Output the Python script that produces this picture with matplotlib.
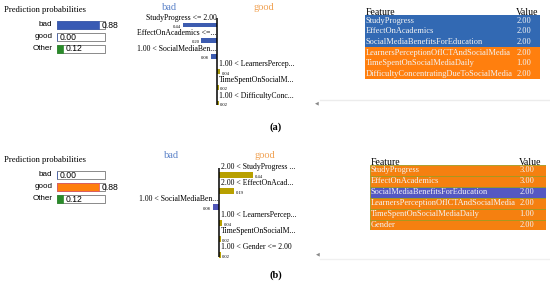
import numpy as np
import matplotlib.pyplot as plt

W, H = 550, 285

prob_labels = ["bad", "good", "Other"]
probs_a = [0.88, 0.00, 0.12]
probs_b = [0.00, 0.88, 0.12]

exp_labels_a = ["StudyProgress <= 2.00", "EffectOnAcademics <=...", "1.00 < SocialMediaBen...",
                "1.00 < LearnersPercep...", "TimeSpentOnSocialM...", "1.00 < DifficultyConc..."]
exp_weights_a = [-0.44, -0.20, -0.08, 0.04, 0.02, 0.02]
exp_labels_b = ["2.00 < StudyProgress ...", "2.00 < EffectOnAcad...", "1.00 < SocialMediaBen...",
                "1.00 < LearnersPercep...", "TimeSpentOnSocialM...", "1.00 < Gender <= 2.00"]
exp_weights_b = [0.44, 0.19, -0.08, 0.04, 0.02, 0.02]

features_a = ["StudyProgress", "EffectOnAcademics", "SocialMediaBenefitsForEducation",
              "LearnersPerceptionOfICTAndSocialMedia", "TimeSpentOnSocialMediaDaily",
              "DifficultyConcentratingDueToSocialMedia"]
values_a = [2.00, 2.00, 2.00, 2.00, 1.00, 2.00]
features_b = ["StudyProgress", "EffectOnAcademics", "SocialMediaBenefitsForEducation",
              "LearnersPerceptionOfICTAndSocialMedia", "TimeSpentOnSocialMediaDaily", "Gender"]
values_b = [3.00, 3.00, 2.00, 2.00, 1.00, 2.00]

SERIF = "Liberation Serif"
SANS = "Liberation Sans"


def px_axes(fig, x0, y0, x1, y1):
    ax = fig.add_axes([x0 / W, 1 - y1 / H, (x1 - x0) / W, (y1 - y0) / H])
    ax.axis("off")
    return ax


def ftext(fig, x, y, s, **kw):
    fig.text(x / W, 1 - y / H, s, **kw)


def draw_probs(fig, top, probs, good_edge):
    step = 12
    ax = px_axes(fig, 57, top - step / 2, 105, top + 2.5 * step)
    y = np.arange(len(probs))
    ax.barh(y, [1] * len(probs), height=0.72, color="white", edgecolor="#777777", lw=0.6, clip_on=False)
    cols = ["#385ab4", "#ff7f0e", "#2a8a2a"]
    edges = ["#385ab4", good_edge, "#2a8a2a"]
    bars = ax.barh(y, probs, height=0.66, color=cols, edgecolor=edges, lw=0.5)
    for b in bars:
        b.set_clip_on(False)
    ax.set_xlim(0, 1)
    ax.set_ylim(2.5, -0.5)
    for i, (lab, p) in enumerate(zip(prob_labels, probs)):
        ax.text(-0.1, i, lab, ha="right", va="center", fontsize=5.8, family=SANS)
        ax.text(p + 0.05, i, f"{p:.2f}", ha="left", va="center", fontsize=6.2, family=SANS)


def draw_explain(fig, cx, y0, step, labels, weights, neg_col, pos_col):
    scale = 78
    n = len(weights)
    ax = px_axes(fig, cx - scale, y0 - step, cx + scale, y0 + (n - 0.5) * step)
    ax.set_xlim(-1, 1)
    ax.set_ylim(n - 0.5, -1)
    y = np.arange(n)
    w = np.array(weights)
    ax.barh(y, w, height=0.32, color=np.where(w < 0, neg_col, pos_col))
    ax.vlines(0, -0.45, n - 0.85, color="black", lw=1.1)
    for i, (lab, v) in enumerate(zip(labels, weights)):
        if v < 0:
            ax.text(-0.005, i - 0.47, lab, ha="right", va="center", fontsize=5.6, family=SERIF)
            ax.text(v - 0.02, i + 0.12, f"{abs(v):.2f}", ha="right", va="center", fontsize=3.3, family=SERIF)
        else:
            ax.text(0.02, i - 0.47, lab, ha="left", va="center", fontsize=5.6, family=SERIF)
            ax.text(v + 0.02, i + 0.12, f"{v:.2f}", ha="left", va="center", fontsize=3.3, family=SERIF)


def draw_table(fig, x0, x1, top, rh, features, values, weights, blue, orange, edge, vx):
    n = len(features)
    ax = px_axes(fig, x0, top - rh, x1, top + n * rh)
    ax.set_xlim(0, 1)
    ax.set_ylim(n, -1)
    for i, (f, v, wt) in enumerate(zip(features, values, weights)):
        ax.axhspan(i, i + 1, color=blue if wt < 0 else orange, ec=edge, lw=0.6)
        ax.text(0.005, i + 0.5, f, ha="left", va="center", fontsize=6.0, family=SERIF, color="#f4f4f4")
        ax.text(vx, i + 0.5, f"{v:.2f}", ha="left", va="center", fontsize=6.0, family=SERIF, color="#f4f4f4")
    ax.text(0.005, -0.25, "Feature", ha="left", va="center", fontsize=7, family=SERIF)
    ax.text(vx - 0.005, -0.25, "Value", ha="left", va="center", fontsize=7, family=SERIF)


fig = plt.figure(figsize=(5.5, 2.85), dpi=100)

# panel (a)
ftext(fig, 4, 10, "Prediction probabilities", fontsize=6.2, family=SERIF, va="center")
draw_probs(fig, 25, probs_a, "#385ab4")
ftext(fig, 170, 7, "bad", fontsize=7.5, family=SERIF, color="#5b82c8", ha="center", va="center")
ftext(fig, 264, 7, "good", fontsize=7.5, family=SERIF, color="#f0a050", ha="center", va="center")
draw_explain(fig, 217, 25, 15.6, exp_labels_a, exp_weights_a, "#3d5cb0", "#a89a10")
draw_table(fig, 365, 540, 15.3, 10.67, features_a, values_a, exp_weights_a, "#3269b3", "#ff7f0e", "none", 0.865)
fig.add_artist(plt.Line2D([320 / W, 1], [1 - 100 / H] * 2, color="#ececec", lw=1))
ftext(fig, 317, 103, "\u25c0", fontsize=3.5, color="#888888", ha="center", va="center")
ftext(fig, 276, 127, "(a)", fontsize=7.5, family=SERIF, weight="bold", ha="center", va="center")

# panel (b)
ftext(fig, 4, 160, "Prediction probabilities", fontsize=6.2, family=SERIF, va="center")
draw_probs(fig, 175, probs_b, "#e0506a")
ftext(fig, 172, 156, "bad", fontsize=7.5, family=SERIF, color="#5b82c8", ha="center", va="center")
ftext(fig, 265, 156, "good", fontsize=7.5, family=SERIF, color="#f0a050", ha="center", va="center")
draw_explain(fig, 219, 175, 16, exp_labels_b, exp_weights_b, "#4f55b8", "#b8a000")
draw_table(fig, 370, 546, 165, 10.9, features_b, values_b, exp_weights_b, "#5458c2", "#f58010", "#a09a20", 0.85)
fig.add_artist(plt.Line2D([320 / W, 1], [1 - 259 / H] * 2, color="#f0f0f0", lw=1))
ftext(fig, 318, 254, "\u25c0", fontsize=3.5, color="#888888", ha="center", va="center")
ftext(fig, 276, 275, "(b)", fontsize=7.5, family=SERIF, weight="bold", ha="center", va="center")

fig.savefig("out.png", dpi=100)
